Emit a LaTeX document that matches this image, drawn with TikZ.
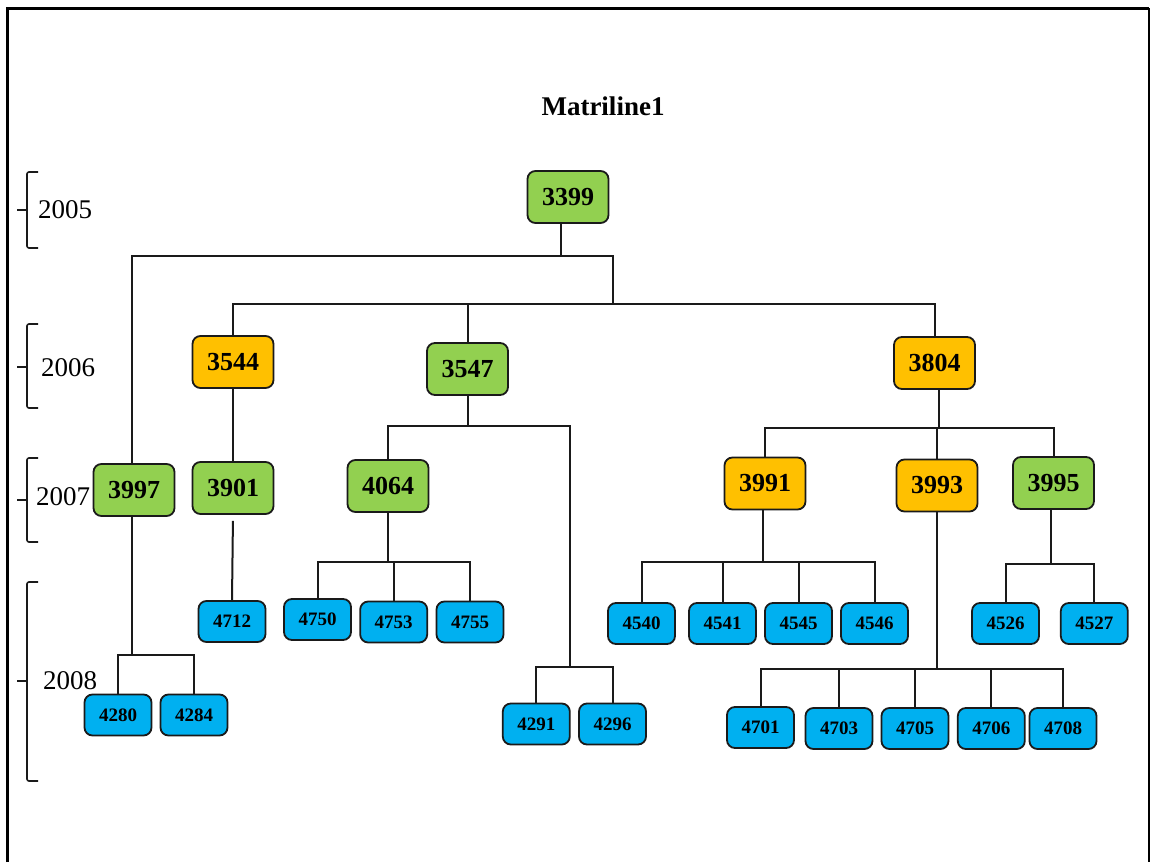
\documentclass[tikz,border=0pt]{standalone}
\usepackage{fontspec}
\setmainfont{Liberation Serif}
\definecolor{lgreen}{HTML}{92D050}
\definecolor{lorange}{HTML}{FFC000}
\definecolor{lblue}{HTML}{00B0F0}
\definecolor{edge}{HTML}{1A1A1A}
\tikzset{
  box/.style={draw=edge, line width=1.8pt, rounded corners=8pt, inner sep=0pt},
  big/.style={box, minimum width=81pt, minimum height=52pt, font=\bfseries\fontsize{26}{28}\selectfont},
  gr/.style={big, fill=lgreen},
  og/.style={big, fill=lorange},
  sm/.style={box, fill=lblue, minimum width=67pt, minimum height=41pt, font=\bfseries\fontsize{19}{21}\selectfont},
  con/.style={draw=edge, line width=2pt},
  brk/.style={draw=edge, line width=1.6pt, rounded corners=2pt},
  yr/.style={anchor=west, inner sep=0pt, font=\fontsize{27}{29}\selectfont}
}
\begin{document}
\begin{tikzpicture}[x=1pt,y=-1pt]
\useasboundingbox (0,0) rectangle (1150,862);
% frame
\draw[line width=3pt] (7,862) -- (7,8) -- (1149,8);
\draw[line width=2pt] (1148.5,8) -- (1148.5,862);
% title
\node[font=\bfseries\fontsize{27}{29}\selectfont] (title) at (603,106) {Matriline1};
% year brackets
\draw[brk] (38,172) -- (27,172) -- (27,248) -- (38,248);
\draw[brk] (17,210) -- (27,210);
\draw[brk] (38,324) -- (27,324) -- (27,408) -- (38,408);
\draw[brk] (17,367) -- (27,367);
\draw[brk] (38,458) -- (27,458) -- (27,542) -- (38,542);
\draw[brk] (17,500) -- (27,500);
\draw[brk] (38,582) -- (27,582) -- (27,781) -- (38,781);
\draw[brk] (17,681) -- (27,681);
\node[yr] (y2005) at (38,210) {2005};
\node[yr] (y2006) at (41,368) {2006};
\node[yr] (y2007) at (36,497) {2007};
\node[yr] (y2008) at (43,681) {2008};
% main nodes
\node[gr] (n3399) at (568,197) {3399};
\node[og] (n3544) at (233,362) {3544};
\node[gr] (n3547) at (467.5,369) {3547};
\node[og] (n3804) at (934.5,363) {3804};
\node[gr] (n3997) at (134,490) {3997};
\node[gr] (n3901) at (233,488) {3901};
\node[gr] (n4064) at (388,486) {4064};
\node[og] (n3991) at (765,483.5) {3991};
\node[og] (n3993) at (937,485.5) {3993};
\node[gr] (n3995) at (1053.5,483) {3995};
% small nodes
\node[sm] (n4712) at (232,621.5) {4712};
\node[sm] (n4280) at (118,715) {4280};
\node[sm] (n4284) at (194,715) {4284};
\node[sm] (n4750) at (317.5,619.5) {4750};
\node[sm] (n4753) at (393.7,622) {4753};
\node[sm] (n4755) at (470,622) {4755};
\node[sm] (n4291) at (536.3,724) {4291};
\node[sm] (n4296) at (612.5,724) {4296};
\node[sm] (n4540) at (641.5,623.5) {4540};
\node[sm] (n4541) at (722.5,623.5) {4541};
\node[sm] (n4545) at (798.5,623.5) {4545};
\node[sm] (n4546) at (874.5,623.5) {4546};
\node[sm] (n4526) at (1005.5,623.5) {4526};
\node[sm] (n4527) at (1094.3,623.5) {4527};
\node[sm] (n4701) at (760.5,727.5) {4701};
\node[sm] (n4703) at (839,728.5) {4703};
\node[sm] (n4705) at (915,728.5) {4705};
\node[sm] (n4706) at (991.3,728.5) {4706};
\node[sm] (n4708) at (1063,728.5) {4708};
% bus coordinates
\coordinate (d1) at (561,256);
\coordinate (b1L) at (132,256);
\coordinate (b1R) at (613,256);
\coordinate (b2) at (613,304);
\coordinate (b3) at (132,655);
\coordinate (b4) at (570,426);
\coordinate (b5) at (570,667);
\coordinate (b6) at (389,562);
\coordinate (b7) at (939,428);
\coordinate (b8) at (763,562);
\coordinate (b9) at (1051,564);
\coordinate (b10) at (937,669);
% level 1
\draw[con] (d1 |- n3399.south) -- (d1);
\draw[con] (b1L |- n3997.north) -- (b1L) -- (b1R) -- (b2);
% level 2
\draw[con] (n3544.north) -- (n3544.north |- b2) -- (n3804.north |- b2) -- (n3804.north);
\draw[con] (n3547.north) -- (n3547.north |- b2);
% 3544 -> 3901 -> 4712
\draw[con] (n3544.south) -- (n3901.north);
\draw[con, shorten <=6pt] (n3901.south) -- (n4712.north);
% 3997 -> 4280, 4284
\draw[con] (n3997.south -| b3) -- (b3);
\draw[con] (n4280.north) -- (n4280.north |- b3) -- (n4284.north |- b3) -- (n4284.north);
% 3547 -> 4064, 4291, 4296
\draw[con] (n3547.south) -- (n3547.south |- b4);
\draw[con] (n4064.north) -- (n4064.north |- b4) -- (b4) -- (b5);
\draw[con] (n4291.north) -- (n4291.north |- b5) -- (n4296.north |- b5) -- (n4296.north);
% 4064 -> 4750, 4753, 4755
\draw[con] (n4064.south) -- (n4064.south |- b6);
\draw[con] (n4750.north) -- (n4750.north |- b6) -- (n4755.north |- b6) -- (n4755.north);
\draw[con] (n4753.north) -- (n4753.north |- b6);
% 3804 -> 3991, 3993, 3995
\draw[con] (n3804.south -| b7) -- (b7);
\draw[con] (n3991.north) -- (n3991.north |- b7) -- (n3995.north |- b7) -- (n3995.north);
\draw[con] (n3993.north) -- (n3993.north |- b7);
% 3991 -> 4540..4546
\draw[con] (n3991.south -| b8) -- (b8);
\draw[con] (n4540.north) -- (n4540.north |- b8) -- (n4546.north |- b8) -- (n4546.north);
\draw[con] (n4541.north) -- (n4541.north |- b8);
\draw[con] (n4545.north) -- (n4545.north |- b8);
% 3995 -> 4526, 4527
\draw[con] (n3995.south -| b9) -- (b9);
\draw[con] (n4526.north) -- (n4526.north |- b9) -- (n4527.north |- b9) -- (n4527.north);
% 3993 -> 4701..4708
\draw[con] (n3993.south -| b10) -- (b10);
\draw[con] (n4701.north) -- (n4701.north |- b10) -- (n4708.north |- b10) -- (n4708.north);
\draw[con] (n4703.north) -- (n4703.north |- b10);
\draw[con] (n4705.north) -- (n4705.north |- b10);
\draw[con] (n4706.north) -- (n4706.north |- b10);
\end{tikzpicture}
\end{document}
